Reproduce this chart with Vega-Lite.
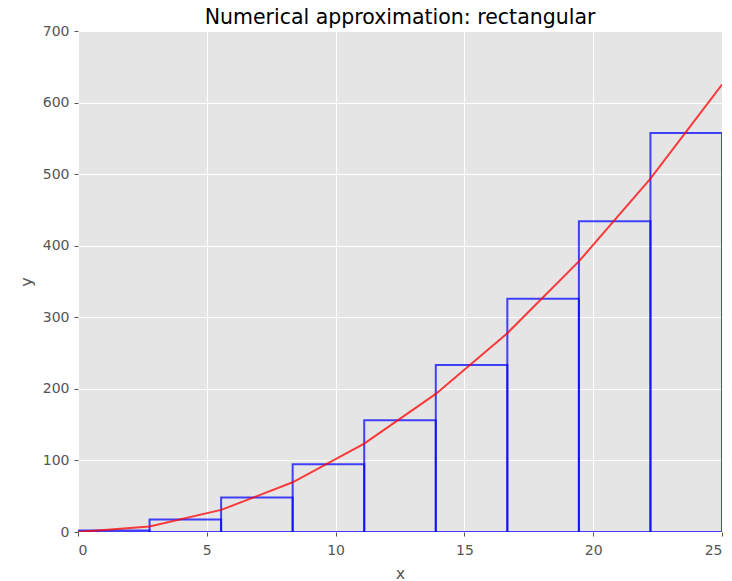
{
  "$schema": "https://vega.github.io/schema/vega-lite/v6.json",
  "width": 644,
  "height": 501,
  "autosize": {"type": "none"},
  "padding": {"left": 78, "top": 31, "right": 10, "bottom": 49},
  "background": "white",
  "config": {
    "font": "DejaVu Sans",
    "view": {"fill": "#e5e5e5", "stroke": null},
    "axis": {
      "domain": false,
      "grid": true,
      "gridColor": "#ffffff",
      "gridWidth": 1,
      "tickColor": "#555555",
      "tickSize": 4,
      "labelColor": "#555555",
      "labelFontSize": 14,
      "labelFont": "DejaVu Sans",
      "titleColor": "#555555",
      "titleFontSize": 16,
      "titleFontWeight": "normal",
      "titleFont": "DejaVu Sans"
    },
    "title": {"fontSize": 20.5, "fontWeight": "normal", "color": "#000000", "font": "DejaVu Sans", "offset": -4}
  },
  "title": "Numerical approximation: rectangular",
  "datasets": {
    "rects": [
      {"x0": 0, "x1": 2.7778, "h": 1.93},
      {"x0": 2.7778, "x1": 5.5556, "h": 17.36},
      {"x0": 5.5556, "x1": 8.3333, "h": 48.23},
      {"x0": 8.3333, "x1": 11.1111, "h": 94.52},
      {"x0": 11.1111, "x1": 13.8889, "h": 156.25},
      {"x0": 13.8889, "x1": 16.6667, "h": 233.41},
      {"x0": 16.6667, "x1": 19.4444, "h": 325.97},
      {"x0": 19.4444, "x1": 22.2222, "h": 434.03},
      {"x0": 22.2222, "x1": 25, "h": 557.48}
    ],
    "curve": [
      {"x": 0, "y": 0},
      {"x": 2.7778, "y": 7.72},
      {"x": 5.5556, "y": 30.86},
      {"x": 8.3333, "y": 69.44},
      {"x": 11.1111, "y": 123.46},
      {"x": 13.8889, "y": 192.9},
      {"x": 16.6667, "y": 277.78},
      {"x": 19.4444, "y": 378.09},
      {"x": 22.2222, "y": 493.83},
      {"x": 25, "y": 625}
    ]
  },
  "layer": [
    {
      "data": {"name": "rects"},
      "mark": {"type": "rect", "fill": "#0000ff", "fillOpacity": 0, "stroke": "#0000ff", "strokeWidth": 2, "strokeOpacity": 0.72, "clip": true},
      "encoding": {
        "x": {"field": "x0", "type": "quantitative", "scale": {"domain": [0, 25], "nice": false}, "axis": {"title": "x", "values": [0, 5, 10, 15, 20, 25], "labelPadding": 7, "titlePadding": 8}},
        "x2": {"field": "x1"},
        "y": {"field": "h", "type": "quantitative", "scale": {"domain": [0, 700], "nice": false}, "axis": {"title": "y", "values": [0, 100, 200, 300, 400, 500, 600, 700], "labelPadding": 5, "titlePadding": 8}},
        "y2": {"datum": 0}
      }
    },
    {
      "data": {"name": "curve"},
      "mark": {"type": "line", "color": "#ff0000", "strokeWidth": 2, "opacity": 0.75, "clip": true},
      "encoding": {
        "x": {"field": "x", "type": "quantitative"},
        "y": {"field": "y", "type": "quantitative"}
      }
    }
  ]
}
